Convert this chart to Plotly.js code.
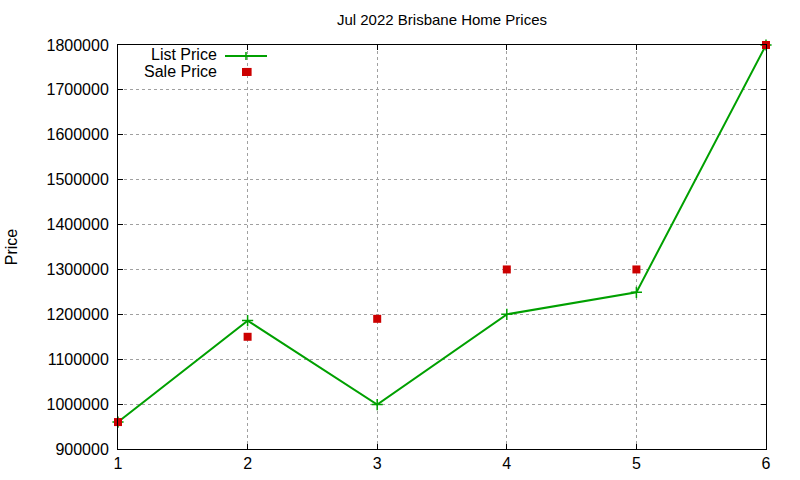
<!DOCTYPE html>
<html>
<head>
<meta charset="utf-8">
<script src="https://cdn.plot.ly/plotly-3.0.1.min.js"></script>
<style>html,body{margin:0;padding:0;background:#fff}#chart{width:800px;height:480px}</style>
</head>
<body>
<div id="chart"></div>
<script>
const listX = [1, 2, 3, 4, 5, 6];
const listPrice = [960000, 1186000, 999000, 1200000, 1249000, 1800000];
const saleX = [1, 2, 2, 3, 4, 5, 6];
const salePrice = [960000, 1150000, 1740000, 1190000, 1300000, 1300000, 1800000];
const yTicks = [900000, 1000000, 1100000, 1200000, 1300000, 1400000, 1500000, 1600000, 1700000, 1800000];
const xTicks = [1, 2, 3, 4, 5, 6];

const green = '#00a000';
const red = '#cc0000';
const font = 'Liberation Sans, Arial, sans-serif';

const L = 118, R = 766, T = 45, B = 449;
const px = v => (v - L) / (R - L);
const py = v => (B - v) / (B - T);

const traces = [
  {
    x: listX, y: listPrice, type: 'scatter', mode: 'lines+markers', name: 'List Price',
    line: {color: green, width: 2},
    marker: {symbol: 'cross-thin', size: 8, color: green, line: {color: green, width: 1.5}},
    cliponaxis: false, showlegend: false
  },
  {
    x: saleX, y: salePrice, type: 'scatter', mode: 'markers', name: 'Sale Price',
    marker: {symbol: 'square', size: 8, color: red},
    cliponaxis: false, showlegend: false
  }
];

const axisCommon = {
  showline: true, mirror: 'ticks', linecolor: '#000', linewidth: 1,
  ticks: 'inside', ticklen: 5, tickcolor: '#000', tickwidth: 1,
  showgrid: true, gridcolor: '#a0a0a0', griddash: 'dot', gridwidth: 1,
  zeroline: false, tickfont: {family: font, size: 16, color: '#000'}
};

const layout = {
  width: 800, height: 480,
  margin: {l: L, r: 800 - R, t: T, b: 480 - B},
  paper_bgcolor: '#fff', plot_bgcolor: '#fff',
  title: {text: 'Jul 2022 Brisbane Home Prices', font: {family: font, size: 15, color: '#000'},
          x: 0.5, xref: 'paper', y: 1 - 20 / 480, yanchor: 'middle'},
  xaxis: Object.assign({}, axisCommon, {range: [1, 6], tickvals: xTicks, ticktext: xTicks.map(String)}),
  yaxis: Object.assign({}, axisCommon, {range: [900000, 1800000], tickvals: yTicks, ticklabelstandoff: 5,
    ticktext: yTicks.map(String), title: {text: 'Price', font: {family: font, size: 16, color: '#000'}, standoff: 24}}),
  annotations: [
    {text: 'List Price', xref: 'paper', yref: 'paper', x: px(218), y: py(54), xanchor: 'right', yanchor: 'middle',
     showarrow: false, borderpad: 0, font: {family: font, size: 16, color: '#000'}},
    {text: 'Sale Price', xref: 'paper', yref: 'paper', x: px(218), y: py(71.5), xanchor: 'right', yanchor: 'middle',
     showarrow: false, borderpad: 0, font: {family: font, size: 16, color: '#000'}}
  ],
  shapes: [
    {type: 'line', xref: 'paper', yref: 'paper', x0: px(225), x1: px(267), y0: py(56), y1: py(56), line: {color: green, width: 2}},
    {type: 'line', xref: 'paper', yref: 'paper', x0: px(246), x1: px(246), y0: py(52), y1: py(60), line: {color: green, width: 1.5}},
    {type: 'rect', xref: 'paper', yref: 'paper', x0: px(242), x1: px(250), y0: py(68), y1: py(76), fillcolor: red, line: {width: 0}}
  ]
};

Plotly.newPlot('chart', traces, layout, {displayModeBar: false, staticPlot: true});
</script>
</body>
</html>
